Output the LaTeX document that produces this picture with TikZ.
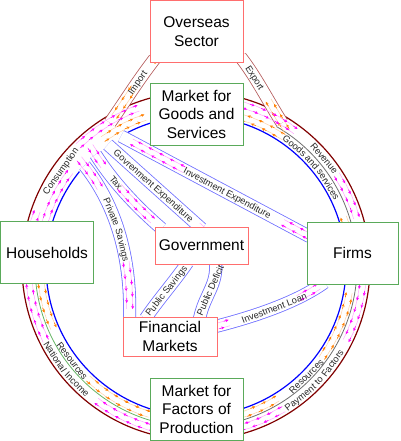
\documentclass[tikz,border=0pt]{standalone}
\usepackage{fontspec}
\setmainfont{Liberation Sans}
\usetikzlibrary{calc,arrows.meta,backgrounds,decorations.markings}

\definecolor{ringred}{RGB}{128,0,0}
\definecolor{ringblue}{RGB}{0,0,255}
\definecolor{sepgreen}{RGB}{100,180,100}
\definecolor{sepgray}{RGB}{110,110,110}
\definecolor{bandblue}{RGB}{110,110,255}
\definecolor{tradered}{RGB}{180,90,90}
\definecolor{boxgreen}{RGB}{90,170,90}
\definecolor{boxred}{RGB}{255,110,110}
\definecolor{flowm}{RGB}{255,0,255}
\definecolor{flowo}{RGB}{255,127,0}
\definecolor{lblgray}{RGB}{40,40,40}

\newcommand{\boxfont}{\fontsize{15.5pt}{18.5pt}\selectfont}
\newcommand{\lblfont}{\fontsize{9.3pt}{10pt}\selectfont}

\tikzset{
  sector/.style={draw=boxgreen, fill=white, line width=0.9pt, minimum width=93pt, minimum height=62pt, inner sep=0pt, align=center, font=\boxfont},
  agent/.style={sector, draw=boxred},
  band/.style={draw=bandblue, line width=0.8pt, double=white, double distance=11.5pt},
  trade/.style={band, draw=tradered},
  lbln/.style={font=\lblfont, text=lblgray, inner sep=0pt, text height=6.7pt, text depth=0pt},
  flowtrail/.style={draw=#1!35, line width=0.5pt},
  flowtip/.style={draw=#1, line width=0.7pt, -{Stealth[length=3pt,width=3pt]}},
  flowpart/.style n args={3}{postaction={decorate, decoration={markings,
      mark=between positions #2 and #3 step 12pt with {
        \draw[flowtrail=#1] (-12pt,3pt) -- (0pt,3pt) (-12pt,-3pt) -- (0pt,-3pt);
        \draw[flowtip=#1] (-5pt,3pt) -- (0pt,3pt);
        \draw[flowtip=#1] (-11pt,-3pt) -- (-6pt,-3pt);}}}},
}

\begin{document}
\begin{tikzpicture}[x=1pt,y=1pt]
  \useasboundingbox (0,0) rectangle (400,441);
  \coordinate (C) at (196,175);

  \node[agent] (ovs) at (196.5,409.5) {Overseas\\Sector};
  \node[sector] (goods) at (196.5,327) {Market for\\Goods and\\Services};
  \node[sector] (hh) at (47,188.5) {Households};
  \node[agent, minimum height=37pt] (gov) at (201.5,195.5) {Government};
  \node[sector, minimum width=91pt] (firms) at (352.5,188) {Firms};
  \node[agent, minimum width=94pt, minimum height=39pt] (fm) at (170,104.5) {Financial\\Markets};
  \node[sector] (factor) at (196.5,32) {Market for\\Factors of\\Production};

  \begin{scope}[on background layer]
    \draw[ringred, line width=1.2pt] (C) circle[radius=174];
    \draw[ringblue, line width=1.2pt] ($(C)+(141:150)$) arc[start angle=141, end angle=477, radius=150];
    \draw[sepgreen, line width=0.8pt] ($(C)+(185:161)$) arc[start angle=185, end angle=256, radius=161];
    \draw[sepgray, line width=0.8pt] ($(C)+(60:161)$) arc[start angle=60, end angle=-77, radius=161];

    \coordinate (sInv) at ($(C)+(120:150)$);
    \coordinate (sGov) at ($(C)+(126:150)$);
    \coordinate (sTax) at ($(C)+(132:150)$);
    \coordinate (sPriv) at ($(C)+(138:150)$);
    \coordinate (jImp) at ($(C)+(121:167)$);
    \coordinate (jExp) at ($(C)+(59:167)$);

    \draw[band] (sInv) -- ([xshift=3pt,yshift=-15pt]firms.north west);
    \draw[band] (sGov) -- ([yshift=-2pt]gov.north);
    \draw[band] (sTax) .. controls +(19,-30) and +(-22,19) .. ([xshift=7pt,yshift=-2pt]gov.north west);
    \draw[band] (sPriv) .. controls +(27.5,-34.4) and +(2,68) .. ([xshift=7pt,yshift=-2pt]fm.north west);
    \draw[band] ([xshift=33pt,yshift=2pt]gov.south west) .. controls +(-13,-19) and +(12,18) .. ([xshift=23pt,yshift=-2pt]fm.north west);
    \draw[band] ([xshift=77pt,yshift=-2pt]fm.north west) .. controls +(5,24) and +(2,-23) .. ([xshift=61pt,yshift=2pt]gov.south west);
    \draw[band] ([xshift=-2pt,yshift=10pt]fm.east) .. controls +(45,11.5) and +(-25,-18) .. ([xshift=18pt,yshift=2pt]firms.south west);
    \draw[trade] ([xshift=5pt,yshift=4pt]ovs.south west) .. controls +(-17,-22) and +(14,20) .. (jImp);
    \draw[trade] ([xshift=-3pt,yshift=6pt]ovs.south east) .. controls +(15,-19) and +(-14,22) .. (jExp);

    \path[flowpart={flowm}{0.03}{0.17}, flowpart={flowm}{0.72}{0.98}] ([xshift=3pt,yshift=-15pt]firms.north west) -- (sInv);
    \path[flowpart={flowm}{0.04}{0.12}] ([yshift=-2pt]gov.north) -- (sGov);
    \path[flowpart={flowm}{0.02}{0.2}, flowpart={flowm}{0.52}{0.98}] (sTax) .. controls +(19,-30) and +(-22,19) .. ([xshift=7pt,yshift=-2pt]gov.north west);
    \path[flowpart={flowm}{0.02}{0.22}, flowpart={flowm}{0.72}{0.99}] (sPriv) .. controls +(27.5,-34.4) and +(2,68) .. ([xshift=7pt,yshift=-2pt]fm.north west);
    \path[flowpart={flowm}{0.02}{0.14}, flowpart={flowm}{0.84}{0.99}] ([xshift=-2pt,yshift=10pt]fm.east) .. controls +(45,11.5) and +(-25,-18) .. ([xshift=18pt,yshift=2pt]firms.south west);
    \path[flowpart={flowo}{0.05}{0.2}, flowpart={flowo}{0.6}{0.98}] ([xshift=5pt,yshift=4pt]ovs.south west) .. controls +(-17,-22) and +(14,20) .. (jImp);
    \path[flowpart={flowo}{0.03}{0.45}] (jExp) .. controls +(-14,22) and +(15,-19) .. ([xshift=-3pt,yshift=6pt]ovs.south east);

    \path[flowpart={flowm}{0}{1}] ($(C)+(165:157)$) arc[start angle=165, end angle=141, radius=157];
    \path[flowpart={flowm}{0}{1}] ($(C)+(165:168)$) arc[start angle=165, end angle=158, radius=168];
    \path[flowpart={flowm}{0}{1}] ($(C)+(130.5:168)$) arc[start angle=130.5, end angle=106, radius=168];
    \path[flowpart={flowo}{0}{1}] ($(C)+(122:157)$) arc[start angle=122, end angle=107, radius=157];
    \path[flowpart={flowm}{0}{1}] ($(C)+(74:167.5)$) arc[start angle=74, end angle=50, radius=167.5];
    \path[flowpart={flowm}{0}{1}] ($(C)+(29:167.5)$) arc[start angle=29, end angle=13, radius=167.5];
    \path[flowpart={flowo}{0}{1}] ($(C)+(14:155.5)$) arc[start angle=14, end angle=22, radius=155.5];
    \path[flowpart={flowo}{0}{1}] ($(C)+(60:155.5)$) arc[start angle=60, end angle=74, radius=155.5];
    \path[flowpart={flowm}{0}{1}] ($(C)+(-6:167.5)$) arc[start angle=-6, end angle=-27, radius=167.5];
    \path[flowpart={flowm}{0}{1}] ($(C)+(-62.5:167.5)$) arc[start angle=-62.5, end angle=-76, radius=167.5];
    \path[flowpart={flowo}{0}{1}] ($(C)+(-76:155.5)$) arc[start angle=-76, end angle=-57, radius=155.5];
    \path[flowpart={flowo}{0}{1}] ($(C)+(-32:155.5)$) arc[start angle=-32, end angle=-6, radius=155.5];
    \path[flowpart={flowm}{0}{1}] ($(C)+(254:167.5)$) arc[start angle=254, end angle=233, radius=167.5];
    \path[flowpart={flowm}{0}{1}] ($(C)+(202.5:167.5)$) arc[start angle=202.5, end angle=186, radius=167.5];
    \path[flowpart={flowo}{0}{1}] ($(C)+(186:155.5)$) arc[start angle=186, end angle=206, radius=155.5];
    \path[flowpart={flowo}{0}{1}] ($(C)+(230.5:155.5)$) arc[start angle=230.5, end angle=253, radius=155.5];

    \path (sInv) -- node[lbln, sloped, pos=0.565] (tInv) {Investment Expenditure} ([xshift=3pt,yshift=-15pt]firms.north west);
    \path (sGov) -- node[lbln, sloped, pos=0.49] (tGov) {Govrenment Expenditure} ([yshift=-2pt]gov.north);
    \path (sTax) .. controls +(19,-30) and +(-22,19) .. ([xshift=7pt,yshift=-2pt]gov.north west) node[lbln, sloped, pos=0.33] (tTax) {Tax};
    \path (sPriv) .. controls +(27.5,-34.4) and +(2,68) .. ([xshift=7pt,yshift=-2pt]fm.north west) node[lbln, sloped, pos=0.38] (tPriv) {Private} node[lbln, sloped, pos=0.6] (tSav) {Savings};
    \path ([xshift=23pt,yshift=-2pt]fm.north west) .. controls +(12,18) and +(-13,-19) .. ([xshift=33pt,yshift=2pt]gov.south west) node[lbln, sloped, pos=0.5] (tPubS) {Public Savings};
    \path ([xshift=77pt,yshift=-2pt]fm.north west) .. controls +(5,24) and +(2,-23) .. ([xshift=61pt,yshift=2pt]gov.south west) node[lbln, sloped, pos=0.5] (tPubD) {Public Deficit};
    \path ([xshift=-2pt,yshift=10pt]fm.east) .. controls +(45,11.5) and +(-25,-18) .. ([xshift=18pt,yshift=2pt]firms.south west) node[lbln, sloped, pos=0.47] (tLoan) {Investment Loan};
    \path ([xshift=5pt,yshift=4pt]ovs.south west) .. controls +(-17,-22) and +(14,20) .. (jImp) node[lbln, sloped, pos=0.36] (tImp) {Import};
    \path ([xshift=-3pt,yshift=6pt]ovs.south east) .. controls +(15,-19) and +(-14,22) .. (jExp) node[lbln, sloped, pos=0.34] (tExp) {Export};

    \node[lbln, rotate=55] (tCons) at ($(C)+(145:165.5)$) {Consumption};
    \node[lbln, rotate=-50] (tRev) at ($(C)+(40:167.5)$) {Revenue};
    \node[lbln, rotate=-39.4] (tGs1) at ($(C)+(50.6:155.5)$) {Goods};
    \node[lbln, rotate=-48.3] (tGs2) at ($(C)+(41.7:155.5)$) {and};
    \node[lbln, rotate=-58.4] (tGs3) at ($(C)+(31.6:155.5)$) {services};
    \node[lbln, rotate=38.5] (tPay1) at ($(C)+(-51.5:167.5)$) {Payment};
    \node[lbln, rotate=47] (tPay2) at ($(C)+(-43:167.5)$) {to};
    \node[lbln, rotate=54.5] (tPay3) at ($(C)+(-35.5:167.5)$) {Factors};
    \node[lbln, rotate=45] (tResR) at ($(C)+(-45:156)$) {Resources};
    \node[lbln, rotate=-57.2] (tNat1) at ($(C)+(212.8:167.5)$) {National};
    \node[lbln, rotate=-45.2] (tNat2) at ($(C)+(224.8:167.5)$) {Income};
    \node[lbln, rotate=-52.5] (tResL) at ($(C)+(217.5:156)$) {Resources};
  \end{scope}
\end{tikzpicture}
\end{document}
